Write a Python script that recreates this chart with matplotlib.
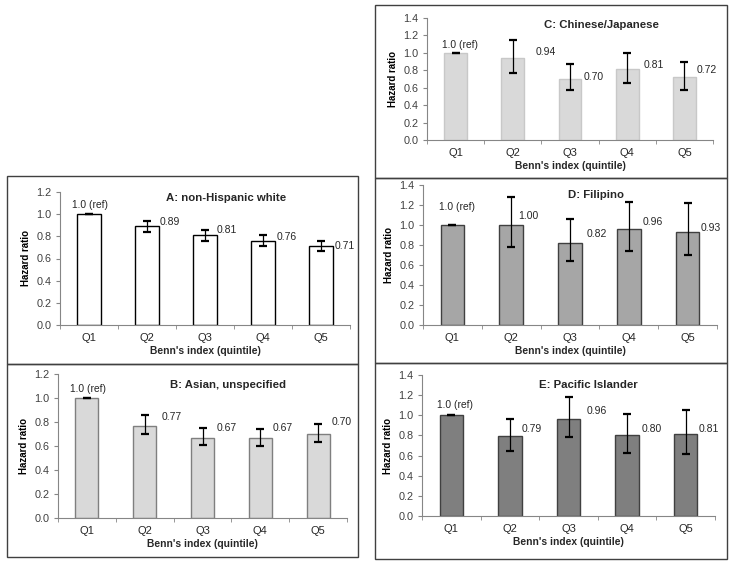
import matplotlib.pyplot as plt
import numpy as np
from matplotlib.patches import Rectangle

plt.rcParams['font.family'] = ['Liberation Sans', 'DejaVu Sans']

quintiles = ["Q1", "Q2", "Q3", "Q4", "Q5"]

# hazard ratios and 95% CI per group
hr_white = [1.0, 0.89, 0.81, 0.76, 0.71]
lo_white = [1.0, 0.84, 0.76, 0.71, 0.67]
hi_white = [1.0, 0.94, 0.86, 0.81, 0.76]

hr_asian = [1.0, 0.77, 0.67, 0.67, 0.70]
lo_asian = [1.0, 0.70, 0.61, 0.60, 0.63]
hi_asian = [1.0, 0.86, 0.75, 0.74, 0.78]

hr_chjp = [1.0, 0.94, 0.70, 0.81, 0.72]
lo_chjp = [1.0, 0.77, 0.57, 0.65, 0.57]
hi_chjp = [1.0, 1.15, 0.87, 1.00, 0.90]

hr_fil = [1.0, 1.00, 0.82, 0.96, 0.93]
lo_fil = [1.0, 0.78, 0.64, 0.74, 0.70]
hi_fil = [1.0, 1.28, 1.06, 1.23, 1.22]

hr_pac = [1.0, 0.79, 0.96, 0.80, 0.81]
lo_pac = [1.0, 0.65, 0.78, 0.63, 0.62]
hi_pac = [1.0, 0.96, 1.18, 1.01, 1.05]

W, H = 733, 565
fig = plt.figure(figsize=(W / 100, H / 100), dpi=100)

def px_rect(x0, y0, x1, y1):
    return [x0 / W, 1 - y1 / H, (x1 - x0) / W, (y1 - y0) / H]

# panel frames (pixel coords)
for x0, y0, x1, y1 in [(7, 176, 358, 364), (7, 364, 358, 557),
                       (375, 5, 727, 178), (375, 178, 727, 363), (375, 363, 727, 559)]:
    fig.patches.append(Rectangle((x0 / W, 1 - y1 / H), (x1 - x0) / W, (y1 - y0) / H,
                                 transform=fig.transFigure, fill=False,
                                 edgecolor='#404040', linewidth=1.0))

# label nudges in pixels (Q2..Q5), as placed by hand in the original
off_a = [(1.5, 4.7), (0, 5), (2.5, 4), (2.5, 0.6)]
off_b = [(5, 9), (2.7, 9.3), (0.7, 9.3), (1.7, 11.7)]
off_c = [(11.3, 5.8), (2, 2.3), (5.3, 4.4), (0.3, 7.3)]
off_d = [(-4.5, 9), (4.8, 8.7), (1.7, 7.3), (1.5, 3.7)]
off_e = [(0.3, 7.4), (6, 8.6), (2.7, 6.4), (1.6, 5.4)]

panels = [
    # axes rect, title, hr, lo, hi, ymax, face, edge, title xy, ref xy, offsets
    (px_rect(60, 192, 350, 325), "A: non-Hispanic white", hr_white, lo_white, hi_white, 1.2,
     'white', 'black', (2.37, 1.15), (0.02, 1.08), off_a),
    (px_rect(58, 374, 347, 518), "B: Asian, unspecified", hr_asian, lo_asian, hi_asian, 1.2,
     '#d9d9d9', '#7f7f7f', (2.44, 1.11), (0.02, 1.075), off_b),
    (px_rect(427, 18, 713, 140), "C: Chinese/Japanese", hr_chjp, lo_chjp, hi_chjp, 1.4,
     '#d9d9d9', '#c8c8c8', (2.55, 1.32), (0.08, 1.09), off_c),
    (px_rect(423, 185, 717, 325), "D: Filipino", hr_fil, lo_fil, hi_fil, 1.4,
     '#a6a6a6', '#404040', (2.45, 1.30), (0.08, 1.18), off_d),
    (px_rect(422, 375, 715, 516), "E: Pacific Islander", hr_pac, lo_pac, hi_pac, 1.4,
     '#7f7f7f', '#404040', (2.34, 1.30), (0.07, 1.10), off_e),
]

x = np.arange(len(quintiles))
for rect, title, hr, lo, hi, ymax, face, edge, txy, rxy, offs in panels:
    ax = fig.add_axes(rect)
    hr = np.array(hr)
    yerr = [hr - np.array(lo), np.array(hi) - hr]
    ax.bar(x, hr, width=0.4, color=face, edgecolor=edge, linewidth=1.0, zorder=2)
    ax.errorbar(x, hr, yerr=yerr, fmt='none', ecolor='black', elinewidth=0.9,
                capsize=3, capthick=1.6, zorder=3)
    ax.set_xlim(-0.5, 4.5)
    ax.set_ylim(0, ymax)
    yt = np.arange(0, ymax + 0.01, 0.2)
    ax.set_yticks(yt)
    ax.set_yticklabels([f"{v:.1f}" for v in yt])
    ax.set_xticks(x)
    ax.set_xticklabels(quintiles)
    ax.set_xticks(np.arange(-0.5, 5, 1), minor=True)
    ax.tick_params(axis='x', which='major', length=0, pad=6, labelsize=8, labelcolor='#262626')
    ax.tick_params(axis='x', which='minor', length=3, color='#868686', direction='out')
    ax.tick_params(axis='y', length=3, color='#868686', labelsize=7.8, labelcolor='#404040', pad=3)
    for s in ['top', 'right']:
        ax.spines[s].set_visible(False)
    for s in ['left', 'bottom']:
        ax.spines[s].set_color('#868686')
        ax.spines[s].set_linewidth(0.8)
    ax.patch.set_alpha(0)
    ax.set_ylabel("Hazard ratio", fontsize=7, fontweight='bold', labelpad=4)
    ax.set_xlabel("Benn's index (quintile)", fontsize=7.4, fontweight='bold', labelpad=2, color='#262626')
    ax.text(txy[0], txy[1], title, ha='center', va='center', fontsize=8.2, fontweight='bold', color='#262626')
    ax.text(rxy[0], rxy[1], "1.0 (ref)", ha='center', va='center', fontsize=7.4, color='#262626')
    for i in range(1, len(hr)):
        dx, dy = offs[i - 1]
        ax.annotate(f"{hr[i]:.2f}", (i + 0.2, hr[i]), xytext=(dx * 0.72, dy * 0.72),
                    textcoords='offset points', ha='left', va='center', fontsize=7.5, color='#262626')

fig.savefig("out.png", dpi=100)
